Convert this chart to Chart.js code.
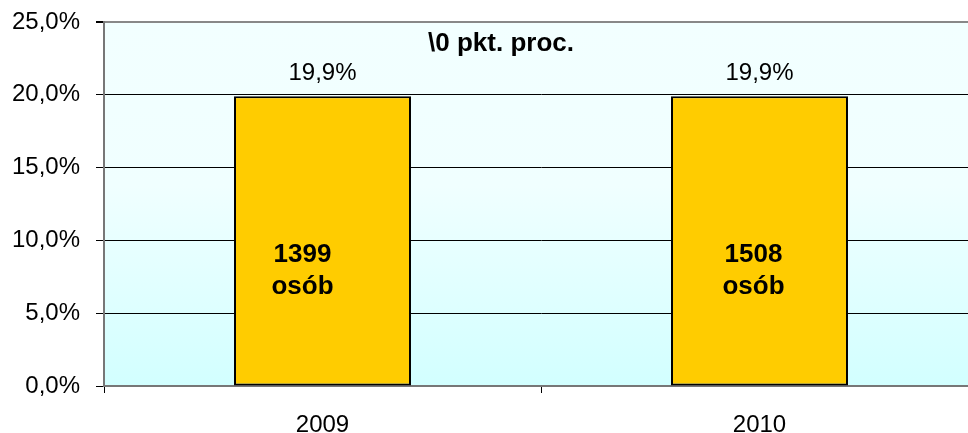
<!DOCTYPE html>
<html>
<head>
<meta charset="utf-8">
<script src="https://cdn.jsdelivr.net/npm/chart.js@4.4.1/dist/chart.umd.min.js"></script>
<style>
html,body{margin:0;padding:0;background:#fff;overflow:hidden;}
#wrap{width:980px;height:433px;position:relative;}
</style>
</head>
<body>
<div id="wrap"><canvas id="c"></canvas></div>
<script>
const categories = ['2009', '2010'];
const shareValues = [19.9, 19.9];
const personCounts = [1399, 1508];
const countUnit = 'osób';
const changeNote = '\\0 pkt. proc.';
const yTicks = [0, 5, 10, 15, 20, 25];

const fmtPct = v => v.toFixed(1).replace('.', ',') + '%';

const bgPlugin = {
  id: 'bgPlugin',
  beforeDraw(chart) {
    const {ctx, chartArea: a} = chart;
    const g = ctx.createLinearGradient(0, a.top, 0, a.bottom);
    g.addColorStop(0, '#F2FFFF');
    g.addColorStop(0.45, '#F0FFFF');
    g.addColorStop(1, '#D2FFFF');
    ctx.save();
    ctx.fillStyle = g;
    ctx.fillRect(a.left, a.top, a.right - a.left, a.bottom - a.top);
    ctx.restore();
  }
};

const labelPlugin = {
  id: 'labelPlugin',
  afterDatasetsDraw(chart, args, opts) {
    const {ctx, chartArea: a} = chart;
    const meta = chart.getDatasetMeta(0);
    ctx.save();
    ctx.fillStyle = '#000';
    ctx.textAlign = 'center';
    ctx.textBaseline = 'middle';
    meta.data.forEach((bar, i) => {
      ctx.font = '24px "Liberation Sans", Arial, sans-serif';
      ctx.fillText(fmtPct(shareValues[i]), bar.x, bar.y - 23);
      const mid = (bar.y + bar.base) / 2;
      const dx = opts.countOffsets[i];
      ctx.font = 'bold 26px "Liberation Sans", Arial, sans-serif';
      ctx.fillText(String(personCounts[i]), bar.x + dx, mid + 14);
      ctx.fillText(countUnit, bar.x + dx, mid + 46);
    });
    const xs = chart.scales.x;
    const xm = (xs.getPixelForValue(0) + xs.getPixelForValue(1)) / 2 - 40;
    ctx.font = 'bold 26px "Liberation Sans", Arial, sans-serif';
    ctx.fillText(changeNote, xm, a.top + 22);
    ctx.restore();
  }
};

new Chart(document.getElementById('c'), {
  type: 'bar',
  data: {
    labels: categories,
    datasets: [{
      data: shareValues,
      backgroundColor: '#FFCC00',
      borderColor: '#000',
      borderWidth: 2,
      borderSkipped: false,
      barPercentage: 0.405,
      categoryPercentage: 1.0
    }]
  },
  options: {
    responsive: true,
    maintainAspectRatio: false,
    animation: false,
    devicePixelRatio: 1,
    layout: {padding: {top: 22, right: 2, left: 0, bottom: 0}},
    plugins: {
      legend: {display: false},
      tooltip: {enabled: false},
      labelPlugin: {countOffsets: [-20, -6]}
    },
    scales: {
      x: {
        grid: {
          offset: true,
          drawOnChartArea: false,
          drawTicks: true,
          tickLength: 7,
          color: '#000',
          lineWidth: 1
        },
        border: {display: true, color: '#777', width: 2},
        ticks: {
          color: '#000',
          padding: 18,
          font: {family: '"Liberation Sans", Arial, sans-serif', size: 24}
        },
        afterFit(s) { s.height = 47; s.paddingTop = 0; s.paddingBottom = 0; }
      },
      y: {
        min: 0,
        max: 25,
        afterBuildTicks(s) { s.ticks = yTicks.map(v => ({value: v})); },
        grid: {
          color: ctx => (ctx.tick && ctx.tick.value === 25) ? '#888' : '#000',
          lineWidth: ctx => (ctx.tick && ctx.tick.value === 25) ? 2 : 1,
          tickColor: '#000',
          tickLength: 8
        },
        border: {display: true, color: '#777', width: 2},
        ticks: {
          color: '#000',
          padding: 16,
          callback: v => fmtPct(v),
          font: {family: '"Liberation Sans", Arial, sans-serif', size: 24}
        },
        afterFit(s) { s.width = 104; s.paddingTop = 0; s.paddingBottom = 0; }
      }
    }
  },
  plugins: [bgPlugin, labelPlugin]
});
</script>
</body>
</html>
